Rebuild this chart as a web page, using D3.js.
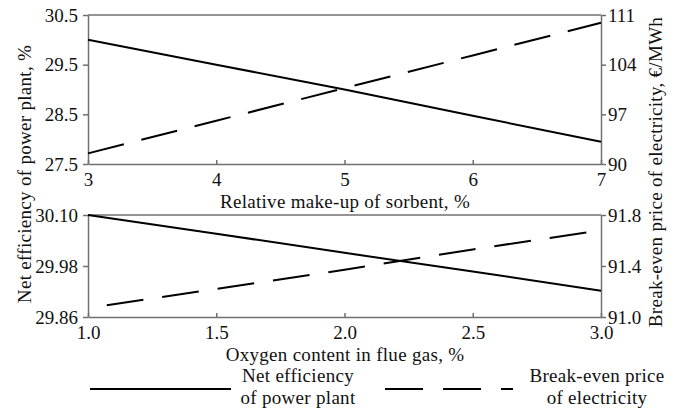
<!DOCTYPE html>
<html><head><meta charset="utf-8">
<script src="https://cdn.jsdelivr.net/npm/d3@7"></script>
<style>body{margin:0;background:#fff}</style>
</head><body>
<svg id="c" width="680" height="413" font-family="Liberation Serif"></svg>
<script>
// Top panel data
const sorbentX = [3, 4, 5, 6, 7];
const sorbentEff = [30.0, 29.5, 29.0, 28.47, 27.95];
const sorbentPrice = [91.5, 96.1, 100.7, 105.3, 109.9];
const topLeftTicks = [27.5, 28.5, 29.5, 30.5];
const topRightTicks = [90, 97, 104, 111];
const topXTicks = [3, 4, 5, 6, 7];
// Bottom panel data
const oxygenX = [1.0, 1.5, 2.0, 2.5, 3.0];
const oxygenEff = [30.10, 30.056, 30.011, 29.967, 29.922];
const oxygenPrice = [91.07, 91.22, 91.37, 91.53, 91.68];
const botLeftTicks = [29.86, 29.98, 30.10];
const botRightTicks = [91.0, 91.4, 91.8];
const botXTicks = [1.0, 1.5, 2.0, 2.5, 3.0];

const FONT = "Liberation Serif";
const svg = d3.select("#c");
const L = 88, R = 601;
const axisCol = "#707070";
const fs = 19;
const ls = 0.3;

function addText(sel) {
  return sel.append("text").attr("font-family", FONT).attr("font-size", fs)
    .attr("letter-spacing", ls).attr("fill", "#111");
}

function panel(o) {
  const x = d3.scaleLinear().domain(o.xd).range([L, R]);
  const yl = d3.scaleLinear().domain(o.yld).range([o.bot, o.top]);
  const yr = d3.scaleLinear().domain(o.yrd).range([o.bot, o.top]);
  const g = svg.append("g");
  g.append("line").attr("x1", L).attr("x2", R).attr("y1", o.top).attr("y2", o.top)
    .attr("stroke", axisCol).attr("stroke-width", 1.5);
  const ax = g.append("g").attr("transform", `translate(0,${o.bot})`)
    .call(d3.axisBottom(x).tickValues(o.xt).tickFormat(o.xf).tickSizeInner(-4).tickSizeOuter(0).tickPadding(o.xpad));
  const al = g.append("g").attr("transform", `translate(${L},0)`)
    .call(d3.axisLeft(yl).tickValues(o.ylt).tickFormat(o.ylf).tickSizeInner(5).tickSizeOuter(0).tickPadding(5));
  const ar = g.append("g").attr("transform", `translate(${R},0)`)
    .call(d3.axisRight(yr).tickValues(o.yrt).tickFormat(o.yrf).tickSizeInner(5).tickSizeOuter(0).tickPadding(2));
  [ax, al, ar].forEach(a => {
    a.attr("font-family", FONT).attr("font-size", fs);
    a.selectAll("path,line").attr("stroke", axisCol).attr("stroke-width", 1.5);
    a.selectAll("text").attr("font-family", FONT).attr("font-size", fs).attr("fill", "#111");
  });
  g.append("path").datum(o.eff)
    .attr("d", d3.line().x((d, i) => x(o.xs[i])).y(d => yl(d)))
    .attr("fill", "none").attr("stroke", "#000").attr("stroke-width", 2);
  g.append("path").datum(o.price)
    .attr("d", d3.line().x((d, i) => x(o.xs[i])).y(d => yr(d)))
    .attr("fill", "none").attr("stroke", "#000").attr("stroke-width", 2)
    .attr("stroke-dasharray", o.dash).attr("stroke-dashoffset", o.dashOff);
  addText(svg).attr("x", 345).attr("y", o.titleY).attr("text-anchor", "middle").text(o.title);
}

panel({xd: [3, 7], yld: [27.5, 30.5], yrd: [90, 111], top: 15, bot: 164, xpad: 9,
  xt: topXTicks, xf: d3.format("d"), ylt: topLeftTicks, ylf: d3.format(".1f"),
  yrt: topRightTicks, yrf: d3.format("d"),
  xs: sorbentX, eff: sorbentEff, price: sorbentPrice, dash: "37,18", dashOff: 0,
  titleY: 208, title: "Relative make-up of sorbent, %"});

panel({xd: [1, 3], yld: [29.86, 30.10], yrd: [91.0, 91.8], top: 215, bot: 317, xpad: 9,
  xt: botXTicks, xf: d3.format(".1f"), ylt: botLeftTicks, ylf: d3.format(".2f"),
  yrt: botRightTicks, yrf: d3.format(".1f"),
  xs: oxygenX, eff: oxygenEff, price: oxygenPrice, dash: "37,19", dashOff: 37,
  titleY: 361, title: "Oxygen content in flue gas, %"});

addText(svg).attr("transform", "translate(31,174) rotate(-90)").attr("text-anchor", "middle")
  .text("Net efficiency of power plant, %");
addText(svg).attr("transform", "translate(662,172) rotate(-90)").attr("text-anchor", "middle")
  .text("Break-even price of electricity, €/MWh");

// legend
const legY = 389;
svg.append("line").attr("x1", 90).attr("x2", 231).attr("y1", legY).attr("y2", legY)
  .attr("stroke", "#000").attr("stroke-width", 2);
svg.append("line").attr("x1", 385).attr("x2", 513).attr("y1", legY).attr("y2", legY)
  .attr("stroke", "#000").attr("stroke-width", 2).attr("stroke-dasharray", "38,20");
const leg1 = addText(svg).attr("text-anchor", "middle");
leg1.append("tspan").attr("x", 298).attr("y", 382).text("Net efficiency");
leg1.append("tspan").attr("x", 298).attr("y", 404).text("of power plant");
const leg2 = addText(svg).attr("text-anchor", "middle");
leg2.append("tspan").attr("x", 597).attr("y", 382).text("Break-even price");
leg2.append("tspan").attr("x", 597).attr("y", 404).text("of electricity");
</script>
</body></html>
